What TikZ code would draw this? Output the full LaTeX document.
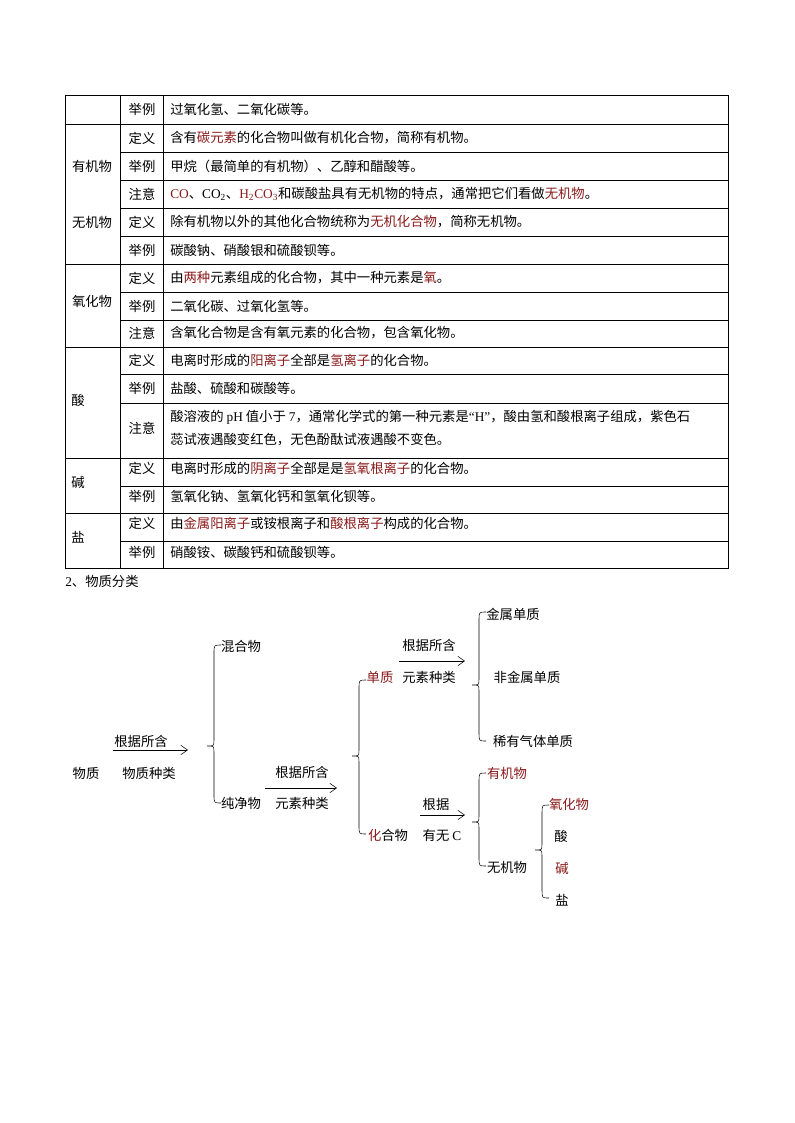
\documentclass[tikz,border=0pt]{standalone}
\usepackage{fontspec}
\setmainfont{Liberation Serif}
\newfontfamily\cjk{Noto Sans CJK SC}
\usetikzlibrary{arrows.meta}
\definecolor{rb}{HTML}{8B1A1A}
\newcommand{\R}[1]{\textcolor{rb}{#1}}
\newcommand{\mybrace}[4]{% x, top, mid, bottom
\draw[thin] (#1+7,#2) .. controls (#1,#2) .. (#1,#2+8) -- (#1,#3-6) .. controls (#1,#3) .. (#1-7,#3) .. controls (#1,#3) .. (#1,#3+6) -- (#1,#4-8) .. controls (#1,#4) .. (#1+7,#4);}
\begin{document}
\begin{tikzpicture}[x=0.75pt,y=-0.75pt,font=\cjk\fontsize{10}{12}\selectfont,
  lab/.style={anchor=west,inner sep=0pt},
  ctr/.style={inner sep=0pt},
  arr/.style={-{Straight Barb[length=5pt,width=7pt]},thin}]
\useasboundingbox (0,0) rectangle (794,1123);
\fill[white] (0,0) rectangle (794,1123);
% table grid
\draw[thin] (65,95) rectangle (728,568);
\foreach \y in {124,264,347,458,513}{\draw[thin] (65,\y)--(728,\y);}
\foreach \y in {152,180,208,236,292,320,374,403,486,541}{\draw[thin] (120,\y)--(728,\y);}
\draw[thin] (120,95)--(120,568);
\draw[thin] (163,95)--(163,568);
% column 1
\node[ctr] (c1) at (92,166) {有机物};
\node[ctr] (c2) at (92,222) {无机物};
\node[ctr] (c3) at (92,301) {氧化物};
\node[ctr] (c4) at (78,400) {酸};
\node[ctr] (c5) at (78,482) {碱};
\node[ctr] (c6) at (78,537) {盐};
% column 2
\foreach \y/\t in {109/举例,138/定义,166/举例,194/注意,222/定义,250/举例,278/定义,306/举例,333/注意,360/定义,388/举例,428/注意,468/定义,496/举例,523/定义,552/举例}
  {\node[ctr] at (142,\y) {\t};}
% column 3
\node[lab] (t1) at (170,109) {过氧化氢、二氧化碳等。};
\node[lab] (t2) at (170,138) {含有\R{碳元素}的化合物叫做有机化合物，简称有机物。};
\node[lab] (t3) at (170,166) {甲烷（最简单的有机物）、乙醇和醋酸等。};
\node[lab] (t4) at (170,194) {\R{\rmfamily CO}、{\rmfamily CO\textsubscript{2}}、\R{\rmfamily H\textsubscript{2}CO\textsubscript{3}}和碳酸盐具有无机物的特点，通常把它们看做\R{无机物}。};
\node[lab] (t5) at (170,222) {除有机物以外的其他化合物统称为\R{无机化合物}，简称无机物。};
\node[lab] (t6) at (170,250) {碳酸钠、硝酸银和硫酸钡等。};
\node[lab] (t7) at (170,278) {由\R{两种}元素组成的化合物，其中一种元素是\R{氧}。};
\node[lab] (t8) at (170,306) {二氧化碳、过氧化氢等。};
\node[lab] (t9) at (170,333) {含氧化合物是含有氧元素的化合物，包含氧化物。};
\node[lab] (t10) at (170,360) {电离时形成的\R{阳离子}全部是\R{氢离子}的化合物。};
\node[lab] (t11) at (170,388) {盐酸、硫酸和碳酸等。};
\node[lab] (t12) at (170,417) {酸溶液的 {\rmfamily pH} 值小于 {\rmfamily 7}，通常化学式的第一种元素是{\rmfamily “H”}，酸由氢和酸根离子组成，紫色石};
\node[lab] (t13) at (170,440) {蕊试液遇酸变红色，无色酚酞试液遇酸不变色。};
\node[lab] (t14) at (170,468) {电离时形成的\R{阴离子}全部是是\R{氢氧根离子}的化合物。};
\node[lab] (t15) at (170,496) {氢氧化钠、氢氧化钙和氢氧化钡等。};
\node[lab] (t16) at (170,523) {由\R{金属阳离子}或铵根离子和\R{酸根离子}构成的化合物。};
\node[lab] (t17) at (170,552) {硝酸铵、碳酸钙和硫酸钡等。};
\node[lab] (h2) at (65,581) {{\rmfamily 2}、物质分类};
% diagram
\node[ctr] (wz) at (86,773) {物质};
\node[ctr] (l1b) at (149,773) {物质种类};
\node[ctr] (l1a) at (141,741) {根据所含};
\coordinate (a1s) at (113,750); \coordinate (a1e) at (188,750);
\draw[arr] (a1s)--(a1e);
\mybrace{214}{645}{746}{803}
\node[ctr] (hh) at (241,646) {混合物};
\node[ctr] (cj) at (241,803) {纯净物};
\node[ctr] (l2a) at (302,772) {根据所含};
\node[ctr] (l2b) at (302,803) {元素种类};
\coordinate (a2s) at (265,788); \coordinate (a2e) at (337,788);
\draw[arr] (a2s)--(a2e);
\mybrace{359}{680}{756}{834}
\node[ctr] (dz) at (380,677) {\R{单质}};
\node[ctr] (hhw) at (388,835) {\R{化}合物};
\node[ctr] (l3a) at (429,645) {根据所含};
\node[ctr] (l3b) at (429,677) {元素种类};
\coordinate (a3s) at (399,661); \coordinate (a3e) at (465,661);
\draw[arr] (a3s)--(a3e);
\mybrace{479}{612}{685}{741}
\node[ctr] (js) at (513,614) {金属单质};
\node[ctr] (fjs) at (527,677) {非金属单质};
\node[ctr] (xy) at (533,741) {稀有气体单质};
\node[ctr] (l4a) at (436,804) {根据};
\node[ctr] (l4b) at (442,835) {有无 {\rmfamily C}};
\coordinate (a4s) at (420,815); \coordinate (a4e) at (465,815);
\draw[arr] (a4s)--(a4e);
\mybrace{479}{773}{822}{866}
\node[ctr] (yj) at (507,773) {\R{有机物}};
\node[ctr] (wj) at (507,867) {无机物};
\mybrace{542}{805}{850}{898}
\node[ctr] (yh) at (569,804) {\R{氧化物}};
\node[ctr] (s) at (561,836) {酸};
\node[ctr] (j) at (562,868) {\R{碱}};
\node[ctr] (y) at (562,900) {盐};
\end{tikzpicture}
\end{document}
